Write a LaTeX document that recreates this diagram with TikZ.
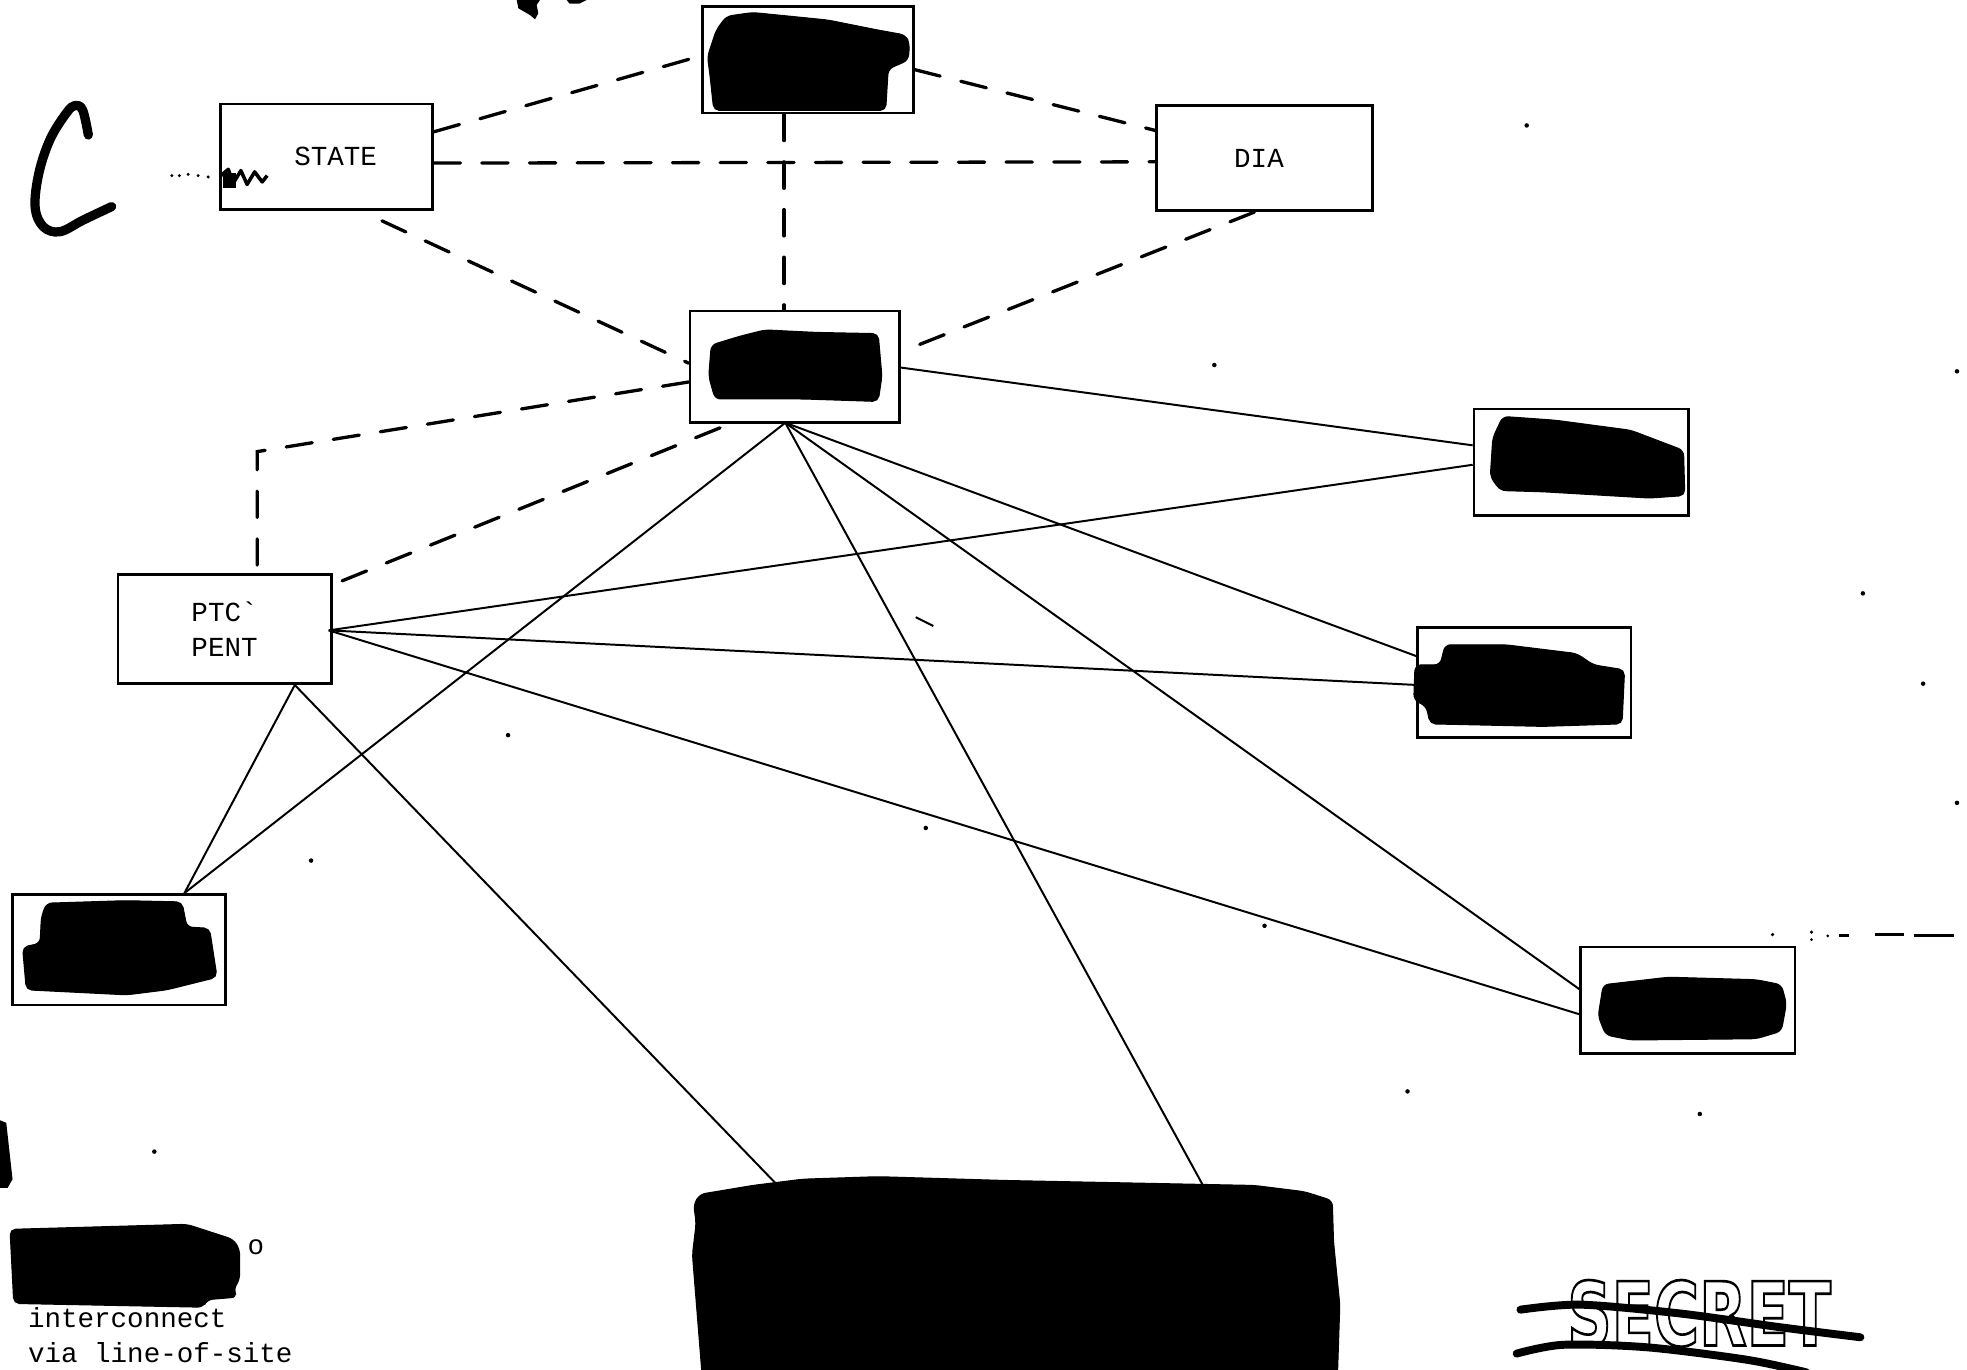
\documentclass[tikz,border=0pt]{standalone}
\usepackage{fontspec}
\usepackage{graphicx}
\usetikzlibrary{calc}
\newfontfamily\twfont{Liberation Mono}
\newfontfamily\stampfont{DejaVu Sans}
\begin{document}
\begin{tikzpicture}[x=0.02cm,y=-0.02cm,
  box/.style 2 args={draw,line width=1.2pt,inner sep=0pt,minimum width=#1*0.02cm,minimum height=#2*0.02cm,font=\twfont\fontsize{12.5}{16}\selectfont,align=center},
  txt/.style={inner sep=0pt,font=\twfont\fontsize{12.5}{16}\selectfont},
  dashlink/.style={line width=1.5pt,dash pattern=on 0.42cm off 0.34cm,line cap=round},
  link/.style={line width=0.9pt},
  redact/.style={fill=black,draw=black,line width=0.5pt,rounded corners=2.5pt},
  hand/.style={line width=4.2pt,line cap=round,line join=round},
  speck/.style={fill=black}]
\useasboundingbox (0,0) rectangle (1568,1092);

% ---------- boxes ----------
\node[box={168}{85}] (T) at (644,47.5) {};
\node[box={169}{84}] (STATE) at (260.5,125) {\hspace*{8pt}STATE};
\node[box={172}{84}] (DIA) at (1008,126) {DIA\hspace*{5pt}};
\node[box={167}{89}] (M) at (633.5,292.5) {};
\node[box={171}{85}] (R1) at (1260.5,368.5) {};
\node[box={170}{88}] (R2) at (1215,544) {};
\node[box={171}{85}] (R3) at (1345.5,797.5) {};
\node[box={170}{87}] (PTC) at (179,501.5) {PTC`\\PENT};
\node[box={170}{88}] (BL) at (95,757) {};
\node[inner sep=0pt,minimum width=515*0.02cm,minimum height=150*0.02cm] (BIG) at (810,1017) {};

% ---------- helper coordinates ----------
\coordinate (mb) at (626,337);
\coordinate (pe) at ($(PTC.east)+(-3,1)$);
\coordinate (ps) at ($(PTC.south)+(56,0)$);
\coordinate (bb1) at (619,944);
\coordinate (bb2) at (959,945);
\coordinate (bend) at (205,360);

% ---------- dashed connectors ----------
\draw[dashlink] ($(STATE.east)+(0,-20)$) -- ($(T.west)+(0,-3)$);
\draw[dashlink] ($(STATE.east)+(0,5)$) -- ($(DIA.west)+(0,3)$);
\draw[dashlink] ($(T.east)+(0,8)$) -- ($(DIA.west)+(0,-22)$);
\draw[dashlink] ($(T.south)+(-19,0)$) -- ($(M.north)+(-8.5,0)$);
\draw[dashlink] ($(STATE.south)+(44,8)$) -- ($(M.west)+(0,-3)$);
\draw[dashlink] ($(DIA.south)+(-8,0)$) -- ($(M.east)+(0,-12)$);
\draw[dashlink] ($(M.west)+(0,12)$) -- (bend) -- (bend |- PTC.north);
\draw[dashlink] ($(M.south west)+(25,3)$) -- ($(PTC.north east)+(-2,10)$);

% ---------- solid connectors ----------
\draw[link] ($(M.east)+(0,0.5)$) -- ($(R1.west)+(0,-13.5)$);
\draw[link] (mb) -- ($(BL.north)+(52,0)$);
\draw[link] (mb) -- (bb2);
\draw[link] (mb) -- ($(R2.west)+(0,-21)$);
\draw[link] (mb) -- ($(R3.west)+(0,-9)$);
\draw[link] (pe) -- ($(R1.west)+(0,2)$);
\draw[link] (pe) -- ($(R2.west)+(0,2)$);
\draw[link] (pe) -- ($(R3.west)+(0,11)$);
\draw[link] (ps) -- ($(BL.north)+(52,0)$);
\draw[link] (ps) -- (bb1);

% ---------- redactions ----------
\fill[redact] (579,13) -- (600,10) -- (660,16) -- (700,24) -- (722,28) -- (725,35) -- (724,48) -- (708,55) -- (706,88) -- (569,88) -- (566,60) -- (564,45) -- (571,24) -- cycle;
\fill[redact] (567,275) -- (590,268) -- (610,263) -- (650,265) -- (700,266) -- (703,300) -- (700,320) -- (640,318) -- (570,318) -- (565,300) -- cycle;
\fill[redact] (1198,332) -- (1240,335) -- (1300,343) -- (1342,359) -- (1343,395) -- (1315,397) -- (1230,392) -- (1196,391) -- (1188,380) -- (1190,349) -- cycle;
\fill[redact] (1152,514) -- (1200,514) -- (1257,521) -- (1270,530) -- (1295,534) -- (1293,577) -- (1230,579) -- (1140,577) -- (1137,563) -- (1127,558) -- (1128,530) -- (1148,530) -- cycle;
\fill[redact] (1278,785) -- (1330,779) -- (1400,781) -- (1420,785) -- (1424,800) -- (1420,822) -- (1400,828) -- (1300,829) -- (1280,825) -- (1274,810) -- cycle;
\fill[redact] (37,720) -- (100,718) -- (145,719) -- (149,739) -- (167,740) -- (173,779) -- (133,789) -- (101,793) -- (21,789) -- (18,755) -- (32,752) -- (33,731) -- cycle;
\fill[redact] (558,952) -- (600,945) -- (640,940) -- (700,938) -- (800,941) -- (900,943) -- (1000,945) -- (1040,950) -- (1062,957) -- (1063,990) -- (1068,1040) -- (1066,1100) -- (560,1100) -- (556,1050) -- (552,1000) -- (555,975) -- (553,960) -- cycle;
\fill[redact] (8,980) -- (149,976) -- (186,988) -- (191,996) -- (191,1020) -- (186,1028) -- (189,1034) -- (165,1036) -- (162,1042) -- (11,1039) -- cycle;

% ---------- legend ----------
\node[txt,anchor=base west] (ocirc) at (197,1000) {o};
\node[txt,anchor=base west] (leg1) at (22,1058) {interconnect};
\node[txt,anchor=base west] (leg2) at (22,1086) {via line-of-site};

% ---------- stamp ----------
\node[inner sep=0pt,anchor=north west] (stamp) at (1249,1020)
  {\scalebox{0.7}[1]{\stampfont\bfseries\fontsize{40}{40}\selectfont\special{pdf:literal direct 1 Tr 1.2 w}SECRET\special{pdf:literal direct 0 Tr}}};
\draw[line width=3.6pt,line cap=round] plot[smooth] coordinates {(1212,1044) (1260,1040) (1339,1047) (1419,1058) (1483,1066)};
\draw[line width=3.6pt,line cap=round] plot[smooth] coordinates {(1209,1079) (1246,1072) (1313,1074) (1393,1084) (1440,1094)};

% ---------- handwriting ----------
\draw[hand] plot[smooth,tension=0.6] coordinates {(70.4,107.6) (66,88) (60,84) (53,90) (40,111) (31,138) (28,165) (34.5,180.7) (47.8,184.7) (66.4,175.4) (89,164.7)};
\fill (411.9,0) -- (413.2,6.6) -- (422.5,12) -- (426.5,15.4) -- (429.1,10.6) -- (427.8,4) -- (430.4,0) -- cycle;
\fill (451.7,0) -- (467.6,0) -- (462,2.8) -- (454,2.8) -- cycle;
\fill (0,893) -- (5,895) -- (10,940) -- (6,947) -- (0,947) -- cycle;

% ---------- smudge left of STATE ----------
\foreach \p in {(137,140),(143,140),(150,139),(158,140),(166,141)} \fill \p circle (1.3);
\draw[line width=1.6pt,line join=round] (176,140) -- (182,135) -- (186,146) -- (192,136) -- (197,147) -- (203,137) -- (209,145) -- (213,140);
\fill (178,138) rectangle (188,150);

% ---------- right-edge dashes ----------
\fill (1413,745) circle (1.4) (1444,743) circle (1.4) (1444,749) circle (1.2) (1457,746) circle (1.2);
\draw[line width=1.3pt] (1466,746) -- (1474,746) (1495,745) -- (1518,745) (1526,746) -- (1558,746);

% ---------- small marks and specks ----------
\draw[link] (730,492) -- (744,499);
\foreach \p in {(968,291),(1217,100),(1485,473),(248,686),(123,918),(1355,888),(1122,870),(1008,738),(1560,296),(1533,545),(1560,640),(405,586),(738,660)} \fill[speck] \p circle (1.8);
\end{tikzpicture}
\end{document}
